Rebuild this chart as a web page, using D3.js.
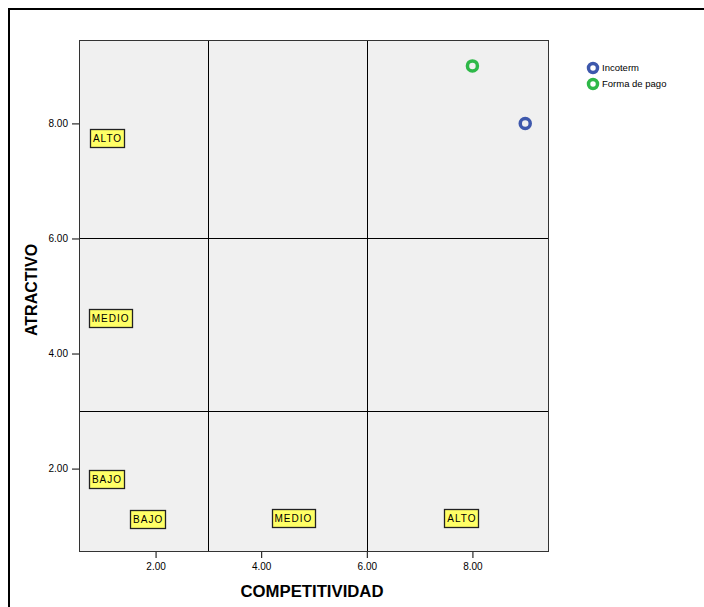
<!DOCTYPE html>
<html><head><meta charset="utf-8">
<script src="https://cdn.jsdelivr.net/npm/d3@7"></script>
<style>body{margin:0;background:#fff}svg{display:block}</style>
</head><body>
<script>
// ---- data ----
const seriesNames = ["Incoterm", "Forma de pago"];
const seriesX = [9, 8];          // COMPETITIVIDAD
const seriesY = [8, 9];          // ATRACTIVO
const seriesColors = ["#3E58AC", "#2EB848"];
const xTicks = [2, 4, 6, 8];
const yTicks = [2, 4, 6, 8];
const tickLabels = ["2.00", "4.00", "6.00", "8.00"];
const dividers = [3, 6];
const quadText = ["ALTO", "MEDIO", "BAJO", "BAJO", "MEDIO", "ALTO"];
const quadX = [1.09, 1.15, 1.08, 1.86, 4.61, 7.80];
const quadY = [7.75, 4.62, 1.82, 1.13, 1.14, 1.14];
const xTitle = "COMPETITIVIDAD";
const yTitle = "ATRACTIVO";

const W = 704, H = 607;
const svg = d3.select("body").append("svg").attr("width", W).attr("height", H);
const font = "Liberation Sans, Arial, sans-serif";

// outer frame
svg.append("line").attr("x1", 9).attr("x2", 9).attr("y1", 8).attr("y2", H).attr("stroke", "#000").attr("stroke-width", 2);
svg.append("line").attr("x1", 8).attr("x2", W).attr("y1", 9).attr("y2", 9).attr("stroke", "#000").attr("stroke-width", 2);

const L = 79, R = 549, T = 40, B = 552;
const x = d3.scaleLinear().domain([0.55, 9.45]).range([L, R]);
const y = d3.scaleLinear().domain([0.55, 9.45]).range([B, T]);

svg.append("rect").attr("x", L).attr("y", T).attr("width", R - L).attr("height", B - T)
  .attr("fill", "#F0F0F0");

// dividers
const g = svg.append("g");
dividers.forEach(v => {
  g.append("line").attr("x1", Math.round(x(v)) + 0.5).attr("x2", Math.round(x(v)) + 0.5)
    .attr("y1", T).attr("y2", B).attr("stroke", "#000").attr("stroke-width", 1);
  g.append("line").attr("y1", Math.round(y(v)) + 0.5).attr("y2", Math.round(y(v)) + 0.5)
    .attr("x1", L).attr("x2", R).attr("stroke", "#000").attr("stroke-width", 1);
});

svg.append("rect").attr("x", L + 0.5).attr("y", T + 0.5).attr("width", R - L - 1).attr("height", B - T - 1)
  .attr("fill", "none").attr("stroke", "#333").attr("stroke-width", 1);

// axes
const fmt = d => tickLabels[xTicks.indexOf(d)];
const xAxis = svg.append("g").attr("transform", `translate(0,${B})`)
  .call(d3.axisBottom(x).tickValues(xTicks).tickFormat(fmt).tickSize(6).tickPadding(5));
const yAxis = svg.append("g").attr("transform", `translate(${L},0)`)
  .call(d3.axisLeft(y).tickValues(yTicks).tickFormat(d => tickLabels[yTicks.indexOf(d)]).tickSize(7).tickPadding(4));
[xAxis, yAxis].forEach(a => {
  a.select(".domain").remove();
  a.selectAll(".tick line").attr("stroke", "#000");
  a.selectAll(".tick text").attr("fill", "#000").style("font-family", font).style("font-size", "10px");
});

// axis titles
svg.append("text").attr("x", 312).attr("y", 597).attr("text-anchor", "middle")
  .style("font-family", font).style("font-size", "16px").style("font-weight", "bold")
  .attr("textLength", 143).attr("lengthAdjust", "spacingAndGlyphs").text(xTitle);
svg.append("text").attr("transform", "translate(37,290) rotate(-90)").attr("text-anchor", "middle")
  .style("font-family", font).style("font-size", "16px").style("font-weight", "bold").text(yTitle);

// quadrant labels
quadText.forEach((t, i) => {
  const cx = x(quadX[i]), cy = y(quadY[i]);
  const lg = svg.append("g");
  const txt = lg.append("text").attr("x", cx).attr("y", cy + 4).attr("text-anchor", "middle")
    .attr("fill", "#000")
    .style("font-family", font).style("font-size", "10px").style("letter-spacing", "1px").text(t);
  const bb = txt.node().getBBox();
  lg.insert("rect", "text").attr("x", Math.round(cx - bb.width / 2 - 3) + 0.5).attr("y", Math.round(cy - 9) + 0.5)
    .attr("width", Math.round(bb.width + 5)).attr("height", 18)
    .attr("fill", "#FFFF66").attr("stroke", "#222").attr("stroke-width", 1.3);
});

// points
seriesNames.forEach((n, i) => {
  svg.append("circle").attr("cx", x(seriesX[i])).attr("cy", y(seriesY[i])).attr("r", 5)
    .attr("fill", "none").attr("stroke", seriesColors[i]).attr("stroke-width", 3.5);
});

// legend
seriesNames.forEach((n, i) => {
  const ly = 68 + i * 16;
  svg.append("circle").attr("cx", 593).attr("cy", ly).attr("r", 4.5)
    .attr("fill", "none").attr("stroke", seriesColors[i]).attr("stroke-width", 3.5);
  svg.append("text").attr("x", 602).attr("y", ly + 3).style("font-family", font)
    .style("font-size", "9.5px").text(n);
});
</script>
</body></html>
